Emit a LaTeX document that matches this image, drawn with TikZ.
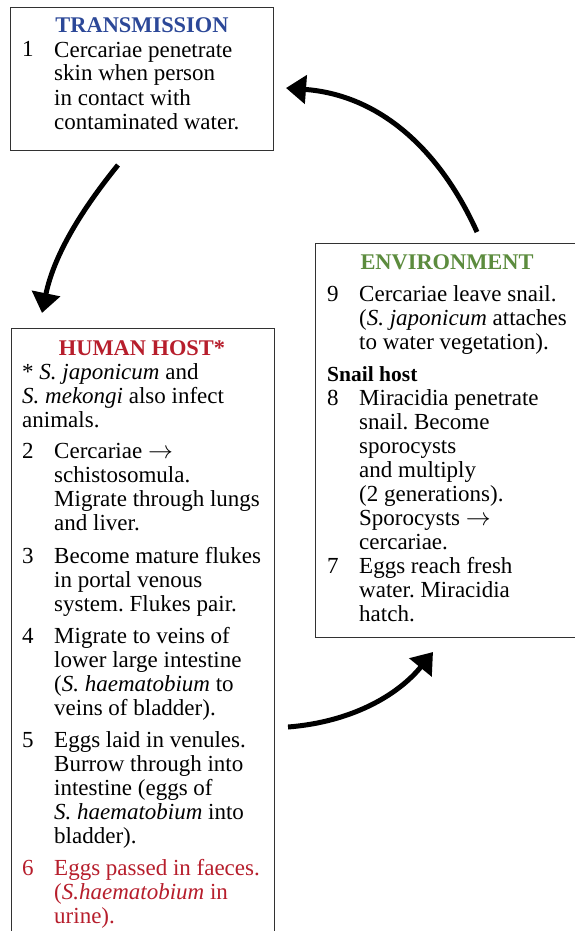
\documentclass[tikz,border=0pt]{standalone}
\usepackage{fontspec}
\setmainfont{Liberation Serif}
\usetikzlibrary{arrows.meta}
\definecolor{tblue}{RGB}{44,72,152}
\definecolor{tred}{RGB}{183,30,44}
\definecolor{tgreen}{RGB}{92,140,62}
\definecolor{boxgray}{RGB}{50,50,50}
\frenchspacing
\begin{document}
\begin{tikzpicture}[x=1pt,y=-1pt,
  box/.style={draw=boxgray, line width=1.3pt, inner sep=0pt, anchor=north west},
  txt/.style={anchor=base west, inner sep=0pt, align=left, font=\fontsize{23}{24}\selectfont},
  ttl/.style={anchor=base, inner sep=0pt, font=\fontsize{22.4}{24}\selectfont\bfseries},
  flow/.style={line width=5pt, -{Triangle[length=20pt,width=28pt]}}]
\useasboundingbox (0,0) rectangle (575,931);
\clip (0,0) rectangle (575,931);
\fill[white] (0,0) rectangle (575,931);
% boxes
\node[box, minimum width=263pt, minimum height=143pt] (trans) at (10,7) {};
\node[box, minimum width=263pt, minimum height=640pt] (human) at (11,328) {};
\node[box, minimum width=280pt, minimum height=394pt] (env) at (315,243) {};
% transmission (multi-line nodes are placed by the baseline of their last line)
\node[ttl, text=tblue] (t0) at (142,33) {TRANSMISSION};
\node[txt] (n1) at (22,57) {1};
\node[txt] (i1) at (54,129) {Cercariae penetrate\\skin when person\\in contact with\\contaminated water.};
% human host
\node[ttl, text=tred] (h0) at (142,355) {HUMAN HOST*};
\node[txt] (hn) at (22,427) {* \textit{S. japonicum} and\\\textit{S. mekongi} also infect\\animals.};
\node[txt] (n2) at (22,458) {2};
\node[txt] (i2) at (54,530) {Cercariae $\rightarrow$\\schistosomula.\\Migrate through lungs\\and liver.};
\node[txt] (n3) at (22,563) {3};
\node[txt] (i3) at (54,611) {Become mature flukes\\in portal venous\\system. Flukes pair.};
\node[txt] (n4) at (22,643) {4};
\node[txt] (i4) at (54,715) {Migrate to veins of\\lower large intestine\\(\textit{S. haematobium} to\\veins of bladder).};
\node[txt] (n5) at (22,747) {5};
\node[txt] (i5) at (54,843) {Eggs laid in venules.\\Burrow through into\\intestine (eggs of\\\textit{S. haematobium} into\\bladder).};
\node[txt, text=tred] (n6) at (22,875) {6};
\node[txt, text=tred] (i6) at (54,923) {Eggs passed in faeces.\\(\textit{S.haematobium} in\\urine).};
% environment
\node[ttl, text=tgreen] (e0) at (447,269) {ENVIRONMENT};
\node[txt] (n9) at (327,301) {9};
\node[txt] (i9) at (359,349) {Cercariae leave snail.\\(\textit{S. japonicum} attaches\\to water vegetation).};
\node[txt, font=\fontsize{21.5}{24}\selectfont\bfseries] (sh) at (327,381) {Snail host};
\node[txt] (n8) at (327,405) {8};
\node[txt] (i8) at (359,549) {Miracidia penetrate\\snail. Become\\sporocysts\\and multiply\\(2 generations).\\Sporocysts $\rightarrow$\\cercariae.};
\node[txt] (n7) at (327,573) {7};
\node[txt] (i7) at (359,621) {Eggs reach fresh\\water. Miracidia\\hatch.};
% arrows
\coordinate (a1s) at (118,165);
\coordinate (a1e) at (42,313);
\coordinate (a2s) at (477,232);
\coordinate (a2e) at (286,88);
\coordinate (a3s) at (288,727);
\coordinate (a3e) at (433,652);
\draw[flow] (a1s) .. controls (88,202) and (55,250) .. (a1e);
\draw[flow] (a2s) .. controls (440,150) and (380,95) .. (a2e);
\draw[flow] (a3s) .. controls (352,722) and (398,695) .. (a3e);
\end{tikzpicture}
\end{document}
